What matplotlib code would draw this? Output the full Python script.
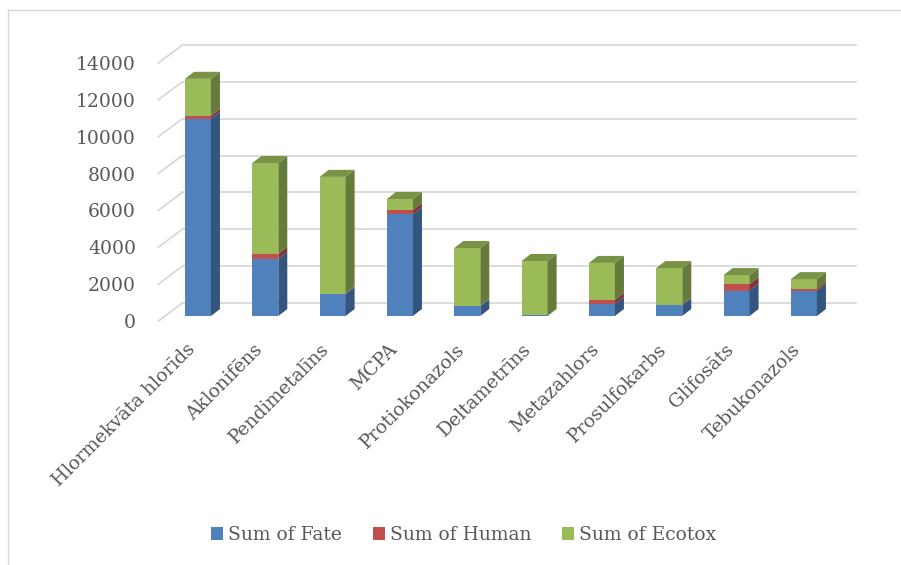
import matplotlib
matplotlib.use('Agg')
import matplotlib.pyplot as plt
from matplotlib.patches import Polygon
from matplotlib.lines import Line2D
from matplotlib.transforms import ScaledTranslation
import numpy as np

categories = ['Hlormekvāta hlorīds', 'Aklonifēns', 'Pendimetalīns', 'MCPA',
              'Protiokonazols', 'Deltametrīns', 'Metazahlors', 'Prosulfokarbs',
              'Glifosāts', 'Tebukonazols']
fate = [10700, 3100, 1200, 5530, 540, 30, 650, 600, 1380, 1360]
human = [170, 270, 20, 220, 10, 5, 220, 20, 350, 110]
ecotox = [2000, 4930, 6330, 600, 3140, 2950, 2010, 1980, 490, 530]
series_names = ['Sum of Fate', 'Sum of Human', 'Sum of Ecotox']
yticks = [0, 2000, 4000, 6000, 8000, 10000, 12000, 14000]

colors = ['#4F81BD', '#C0504D', '#9BBB59']
txt = '#595959'
grid_c = '#D9D9D9'

plt.rcParams['font.family'] = ['DejaVu Serif']

W, H = 901, 565
fig = plt.figure(figsize=(W / 100, H / 100), dpi=100)
ax = fig.add_axes([158.3 / W, (H - 321) / H, 673.3 / W, 258 / H])
ax.set_xlim(-0.5, 9.5)
ax.set_ylim(0, 14000)

# pixel -> data offsets for the fake 3d depth
px_x = 673.3 / 10
px_y = 258 / 14000


def off(dx, dy):
    return dx / px_x, -dy / px_y


bar_dx, bar_dy = off(6, -5)
dep_dx, dep_dy = off(9, -7)
wall_dx, wall_dy = off(24, -18)

# walls
for v in yticks:
    ax.plot([-0.5, -0.5 + wall_dx], [v, v + wall_dy], color=grid_c, lw=1.3,
            clip_on=False, zorder=1)
    ax.plot([-0.5 + wall_dx, 9.5 + wall_dx], [v + wall_dy, v + wall_dy],
            color=grid_c, lw=1.3, clip_on=False, zorder=1)


def shade(c, f):
    c = np.array(matplotlib.colors.to_rgb(c))
    return tuple(c * f)


w = 0.386
x = np.arange(len(categories)) + bar_dx
bottom = np.full(len(categories), bar_dy)
handles = []
for vals, col, name in zip([fate, human, ecotox], colors, series_names):
    vals = np.array(vals, dtype=float)
    b = ax.bar(x, vals, width=w, bottom=bottom, color=col, label=name,
               zorder=3, clip_on=False)
    handles.append(b)
    for i in range(len(x)):
        xr = x[i] + w / 2
        y0, y1 = bottom[i], bottom[i] + vals[i]
        ax.add_patch(Polygon([(xr, y0), (xr, y1), (xr + dep_dx, y1 + dep_dy),
                              (xr + dep_dx, y0 + dep_dy)],
                             closed=True, facecolor=shade(col, 0.66),
                             edgecolor='none', zorder=3, clip_on=False))
    bottom = bottom + vals

# top faces
for i in range(len(x)):
    xl, xr = x[i] - w / 2, x[i] + w / 2
    t = bottom[i]
    ax.add_patch(Polygon([(xl, t), (xr, t), (xr + dep_dx, t + dep_dy),
                          (xl + dep_dx, t + dep_dy)],
                         closed=True, facecolor=shade(colors[2], 0.78),
                         edgecolor='none', zorder=3, clip_on=False))

for s in ax.spines.values():
    s.set_visible(False)
ax.patch.set_visible(False)

ax.set_yticks(yticks)
ax.set_yticklabels([str(v) for v in yticks])
ax.tick_params(axis='y', length=0, pad=16, labelsize=13.5, labelcolor=txt)
ax.set_xticks(np.arange(len(categories)))
ax.set_xticklabels(categories, rotation=45, ha='right', va='top',
                   rotation_mode='anchor')
ax.tick_params(axis='x', length=0, pad=14, labelsize=13.5, labelcolor=txt)
shift = ScaledTranslation(-0.06, 0, fig.dpi_scale_trans)
for lab in ax.get_xticklabels():
    lab.set_transform(lab.get_transform() + shift)

fig.legend(handles, series_names, loc='center', bbox_to_anchor=(0.5144, 0.0531),
           ncol=3, frameon=False, handlelength=0.64, handleheight=0.64,
           handletextpad=0.27, columnspacing=1.65, fontsize=13.5,
           labelcolor=txt)

fig.add_artist(Line2D([8 / W, 8 / W], [0, (H - 10) / H], transform=fig.transFigure,
                      color=grid_c, lw=1))
fig.add_artist(Line2D([8 / W, 1], [(H - 10) / H, (H - 10) / H],
                      transform=fig.transFigure, color=grid_c, lw=1))

fig.savefig('out.png', dpi=100)
